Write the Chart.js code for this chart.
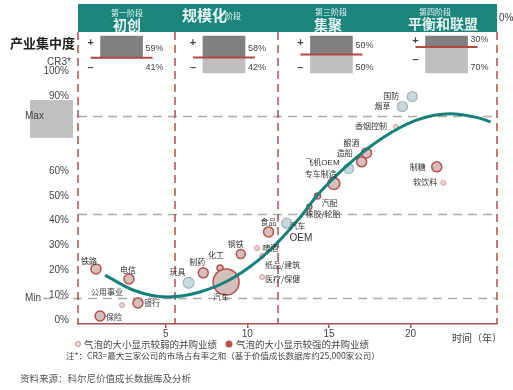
<!DOCTYPE html>
<html>
<head>
<meta charset="utf-8">
<script src="https://cdn.jsdelivr.net/npm/chart.js@4.4.0/dist/chart.umd.min.js"></script>
<style>
  html, body { margin: 0; padding: 0; background: #fff; }
  #wrap { width: 513px; height: 390px; position: relative; }
</style>
</head>
<body>
<div id="wrap"><canvas id="c" width="513" height="390"></canvas></div>
<script>
// axis ticks
const yTicks = [0, 10, 20, 30, 40, 50, 60, 80, 90, 100];
const xTicks = [5, 10, 15, 20];

// stages
const stageTitles = ['初创', '规模化', '集聚', '平衡和联盟'];
const stageSubs = ['第一阶段', '阶段', '第三阶段', '第四阶段'];
const stageCenters = [2.3, 8.57, 15.15, 22.2];
const stagePlus = [59, 58, 50, 30];
const stageMinus = [41, 42, 50, 70];
const stageBounds = [5.57, 11.88];
const refLines = [82.3, 42.7, 9];

// S-curve
const curveX = [1.29, 3.0, 5.08, 7.1, 9.12, 11.2, 13.2, 14.3, 16.3, 18.3, 20.4, 22.4, 24.1, 24.9];
const curveY = [18.1, 12.1, 9.3, 11.3, 16.9, 27, 41.1, 50.4, 63.3, 73.4, 80.6, 83.1, 81.5, 79.8];

// strong M&A bubbles
const strongNames = ['铁路', '电信', '银行', '保险', '制药', '化工', '汽车', '钢铁', '食品', '汽配', '橡胶/轮胎', '专车制造', '造船', '酿酒', '制糖'];
const strongX = [0.73, 2.75, 3.3, 0.98, 7.3, 8.33, 8.7, 9.6, 11.3, 14.3, 13.8, 15.3, 17.0, 17.3, 21.6];
const strongY = [20.6, 16.5, 6.9, 1.6, 19, 21, 15.3, 26.6, 35.5, 50, 45.6, 55, 63.7, 67.3, 61.7];
const strongR = [5, 5, 5, 5, 5, 3, 13, 4.5, 5, 3, 2.5, 6, 5, 5, 5];

// weak M&A bubbles
const weakNames = ['玩具', '汽车\nOEM', '飞机OEM', '烟草', '国防'];
const weakX = [6.4, 12.4, 16.2, 19.5, 20.1];
const weakY = [15, 39, 61, 86, 90];
const weakR = [5.5, 5, 5, 5, 5];

// small markers
const minorNames = ['公用事业', '啤酒', '纸品/建筑', '医疗/保健', '香烟控制', '软饮料'];
const minorX = [2.33, 10.6, 10.9, 10.9, 19.1, 22];
const minorY = [6, 29, 25.8, 17.3, 77.8, 55.2];
const minorR = [2.5, 2.5, 2.5, 2.5, 2.5, 2.5];

// label offsets [dx, dy, align]
const strongPlace = [[-15, -8, 'left'], [-9, -9, 'left'], [6, 0, 'left'], [6, 1, 'left'], [-14, -11, 'left'], [-12, -13, 'left'], [-13, 15, 'left'], [-13, -10, 'left'], [-8, -10, 'left'], [4, 7, 'left'], [-4, 7, 'left'], [-29, -10, 'left'], [-9, -9, 'right'], [-7, -10, 'right'], [-11, 0, 'right']];
const weakPlace = [[-3, -10, 'right'], [3, 4, 'left'], [-9, -6, 'right'], [-12, 0, 'right'], [-13, 0, 'right']];
const minorPlace = [[1, -13, 'right'], [5, 0, 'left'], [3, 9, 'left'], [3, 2, 'left'], [-9, -1, 'right'], [-6, -1, 'right']];

const FONT = "'Liberation Sans', 'Noto Sans CJK SC', sans-serif";
const CJK = "'Noto Sans CJK SC', sans-serif";
const RED = '#a8514b';
const TEAL = '#1b857d';

function drawLabels(ctx, names, xs, ys, place, sx, sy) {
  names.forEach((n, i) => {
    const [dx, dy, al] = place[i];
    const px = sx.getPixelForValue(xs[i]);
    const py = sy.getPixelForValue(ys[i]);
    ctx.textAlign = al;
    n.split('\n').forEach((line, k) => ctx.fillText(line, px + dx, py + dy + k * 11));
  });
}

const decor = {
  id: 'decor',
  beforeDatasetsDraw(chart) {
    const { ctx, chartArea: a, scales } = chart;
    const sx = scales.x, sy = scales.y;
    ctx.save();
    // grey reference lines
    ctx.strokeStyle = '#ababab';
    ctx.lineWidth = 1.5;
    ctx.setLineDash([9, 6]);
    refLines.forEach((v, i) => {
      const y = Math.round(sy.getPixelForValue(v)) + 0.5;
      ctx.beginPath();
      ctx.moveTo(i === 2 ? 43 : a.left, y);
      ctx.lineTo(a.right, y);
      ctx.stroke();
    });
    // stage dividers
    ctx.strokeStyle = RED;
    ctx.setLineDash([8, 5]);
    [a.left, sx.getPixelForValue(stageBounds[0]), sx.getPixelForValue(stageBounds[1]), a.right].forEach((x) => {
      ctx.beginPath();
      ctx.moveTo(x, a.top);
      ctx.lineTo(x, a.bottom);
      ctx.stroke();
    });
    ctx.setLineDash([]);
    // Max box
    ctx.fillStyle = '#c0c0c0';
    ctx.fillRect(30, 100, 43, 38);
    ctx.restore();
  },
  afterDraw(chart) {
    const { ctx, chartArea: a, scales } = chart;
    const sx = scales.x, sy = scales.y, si = scales.yi;
    ctx.save();
    ctx.textBaseline = 'middle';

    // header band
    ctx.fillStyle = TEAL;
    ctx.fillRect(a.left, 4, a.right - a.left, a.top - 4);
    ctx.fillStyle = '#e6f3f1';
    ctx.textAlign = 'center';
    const hc = [127, 0, 331, 435];
    ctx.font = `8px ${CJK}`;
    ctx.fillText(stageSubs[0], hc[0], 13);
    ctx.fillText(stageSubs[2], hc[2], 12);
    ctx.fillText(stageSubs[3], hc[3], 12);
    ctx.font = `bold 14px ${CJK}`;
    ctx.fillText(stageTitles[0], hc[0], 25);
    ctx.fillText(stageTitles[2], 328, 25);
    ctx.fillText(stageTitles[3], 443, 24);
    ctx.textAlign = 'left';
    ctx.font = `bold 15px ${CJK}`;
    ctx.fillText(stageTitles[1], 182, 15);
    ctx.font = `8px ${CJK}`;
    ctx.fillText(stageSubs[1], 225, 16);
    ctx.fillStyle = '#444';
    ctx.font = `10px ${FONT}`;
    ctx.fillText('0%', 499, 18);

    // inset markers: red line, labels, +/-
    stageCenters.forEach((v, i) => {
      const cx = sx.getPixelForValue(v);
      const ly = si.getPixelForValue(stageMinus[i]);
      ctx.strokeStyle = '#b4473f';
      ctx.lineWidth = 2;
      ctx.beginPath();
      ctx.moveTo(cx - 31, ly);
      ctx.lineTo(cx + 31, ly);
      ctx.stroke();
      ctx.fillStyle = '#444';
      ctx.font = `9px ${FONT}`;
      ctx.textAlign = 'left';
      ctx.fillText(stagePlus[i] + '%', cx + 24, Math.max(40, ly - 9));
      ctx.fillText(stageMinus[i] + '%', cx + 24, 68);
      ctx.font = `bold 11px ${FONT}`;
      ctx.textAlign = 'center';
      ctx.fillText('+', cx - 31, i === 3 ? 41 : 43);
      ctx.fillText('–', cx - 31, i === 3 ? 60 : 68);
    });

    // left titles
    ctx.fillStyle = '#222';
    ctx.textAlign = 'right';
    ctx.font = `bold 13px ${CJK}`;
    ctx.fillText('产业集中度', 75, 43);
    ctx.fillStyle = '#444';
    ctx.font = `10px ${FONT}`;
    ctx.fillText('CR3*', 71, 62);
    ctx.textAlign = 'left';
    ctx.fillText('Max', 25, 116);
    ctx.fillText('Min', 25, 298);

    // bubble labels
    ctx.fillStyle = '#333';
    ctx.font = `8px ${CJK}`;
    drawLabels(ctx, strongNames, strongX, strongY, strongPlace, sx, sy);
    drawLabels(ctx, minorNames, minorX, minorY, minorPlace, sx, sy);
    ctx.font = `8px ${FONT}`;
    weakNames.forEach((n, i) => {
      const [dx, dy, al] = weakPlace[i];
      const px = sx.getPixelForValue(weakX[i]);
      const py = sy.getPixelForValue(weakY[i]);
      ctx.textAlign = al;
      n.split('\n').forEach((line, k) => {
        ctx.font = line === 'OEM' ? `10px ${FONT}` : `8px ${FONT}`;
        ctx.fillText(line, px + dx, py + dy + k * 11);
      });
    });

    // axis title
    ctx.fillStyle = '#444';
    ctx.textAlign = 'left';
    ctx.font = `10px ${CJK}`;
    ctx.fillText('时间（年）', 452, 338);

    // legend
    ctx.fillStyle = '#f4dcdc';
    ctx.strokeStyle = '#d08a88';
    ctx.lineWidth = 1;
    ctx.beginPath();
    ctx.arc(78, 344, 2.5, 0, Math.PI * 2);
    ctx.fill();
    ctx.stroke();
    ctx.fillStyle = '#b5524c';
    ctx.beginPath();
    ctx.arc(229, 344, 3.5, 0, Math.PI * 2);
    ctx.fill();
    ctx.fillStyle = '#444';
    ctx.font = `9.5px ${CJK}`;
    ctx.fillText('气泡的大小显示较弱的并购业绩', 84, 344);
    ctx.fillText('气泡的大小显示较强的并购业绩', 236, 344);
    ctx.font = `8.5px ${CJK}`;
    ctx.fillText('注*：CR3=最大三家公司的市场占有率之和（基于价值成长数据库约25,000家公司）', 66, 356);
    ctx.fillStyle = '#555';
    ctx.font = `9.5px ${CJK}`;
    ctx.fillText('资料来源：科尔尼价值成长数据库及分析', 20, 378);
    ctx.restore();
  }
};

new Chart(document.getElementById('c'), {
  type: 'bubble',
  data: {
    datasets: [
      {
        type: 'line',
        data: curveX.map((x, i) => ({ x, y: curveY[i] })),
        borderColor: '#17807a',
        borderWidth: 3,
        pointRadius: 0,
        cubicInterpolationMode: 'monotone',
        fill: false,
        order: 0
      },
      {
        data: strongX.map((x, i) => ({ x, y: strongY[i], r: strongR[i] })),
        backgroundColor: '#d6bebd',
        borderColor: '#b5524c',
        borderWidth: 1.5,
        order: 1
      },
      {
        data: weakX.map((x, i) => ({ x, y: weakY[i], r: weakR[i] })),
        backgroundColor: '#c8d9dc',
        borderColor: '#9db4b9',
        borderWidth: 1.2,
        order: 1
      },
      {
        data: minorX.map((x, i) => ({ x, y: minorY[i], r: minorR[i] })),
        backgroundColor: '#f0d2d2',
        borderColor: '#d39a98',
        borderWidth: 1,
        order: 1
      },
      {
        type: 'bar',
        yAxisID: 'yi',
        data: stageCenters.map((x, i) => ({ x, y: [0, stageMinus[i]] })),
        backgroundColor: stageMinus.map((v, i) => (i === 0 ? 'rgba(0,0,0,0)' : '#bfbfbf')),
        barThickness: 42,
        grouped: false,
        order: 3
      },
      {
        type: 'bar',
        yAxisID: 'yi',
        data: stageCenters.map((x, i) => ({ x, y: [stageMinus[i], 100] })),
        backgroundColor: '#808080',
        barThickness: 42,
        grouped: false,
        order: 3
      }
    ]
  },
  options: {
    responsive: false,
    animation: false,
    layout: { padding: { top: 32, right: 16, left: 0, bottom: 0 } },
    plugins: { legend: { display: false }, tooltip: { enabled: false } },
    scales: {
      x: {
        type: 'linear',
        min: -0.37,
        max: 25.29,
        offset: false,
        afterFit: (s) => { s.height = 66; },
        afterBuildTicks: (s) => { s.ticks = xTicks.map((v) => ({ value: v })); },
        grid: { display: true, offset: false, drawOnChartArea: false, drawTicks: true, tickLength: 4, color: RED, lineWidth: 1.5 },
        border: { display: true, color: RED, width: 1.5 },
        ticks: { color: '#444', font: { size: 10, family: FONT }, padding: 0, maxRotation: 0, autoSkip: false }
      },
      y: {
        min: -1.6,
        max: 116,
        afterFit: (s) => { s.width = 78; },
        afterBuildTicks: (s) => { s.ticks = yTicks.map((v) => ({ value: v })); },
        grid: { display: false },
        border: { display: false },
        ticks: { callback: (v) => v + '%', color: '#444', font: { size: 10, family: FONT }, padding: 1 }
      },
      yi: { display: false, min: -678.4, max: 110.8 }
    }
  },
  plugins: [decor]
});
</script>
</body>
</html>
